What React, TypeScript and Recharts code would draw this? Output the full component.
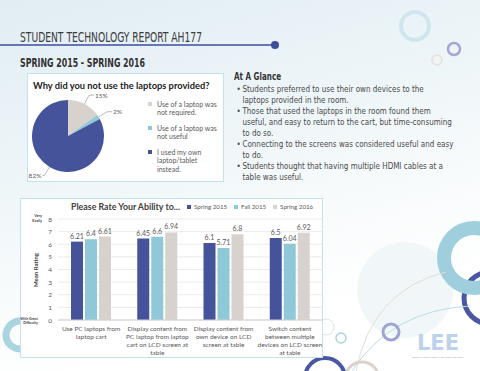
import React from 'react';
import {
  Bar,
  BarChart,
  CartesianGrid,
  Cell,
  LabelList,
  Legend,
  Pie,
  PieChart,
  XAxis,
  YAxis,
} from 'recharts';

// pie: why the laptops were not used
const PIE_NAMES = [
  'Use of a laptop was\nnot required.',
  'Use of a laptop was\nnot useful',
  'I used my own\nlaptop/tablet\ninstead.',
];
const PIE_VALUES = [15, 2, 82];
const PIE_COLORS = ['#d7d2cd', '#8fc8d8', '#45539b'];

// bars: mean rating per task
const CATEGORIES = [
  'Use PC laptops from\nlaptop cart',
  'Display content from\nPC laptop from laptop\ncart on LCD screen at\ntable',
  'Display content from\nown device on LCD\nscreen at table',
  'Switch content\nbetween multiple\ndevices on LCD screen\nat table',
];
const SPRING_2015 = [6.21, 6.45, 6.1, 6.5];
const FALL_2015 = [6.4, 6.6, 5.71, 6.04];
const SPRING_2016 = [6.61, 6.94, 6.8, 6.92];
const SERIES = ['Spring 2015', 'Fall 2015', 'Spring 2016'];
const SERIES_COLORS = ['#45539b', '#8fc8d8', '#d7d2cd'];
const Y_TICKS = [0, 1, 2, 3, 4, 5, 6, 7, 8];

const GLANCE = [
  'Students preferred to use their own devices to the\nlaptops provided in the room.',
  'Those that used the laptops in the room found them\nuseful, and easy to return to the cart, but time-consuming\nto do so.',
  'Connecting to the screens was considered useful and easy\nto do.',
  'Students thought that having multiple HDMI cables at a\ntable was useful.',
];

const pieData = PIE_NAMES.map((name, i) => ({ name, value: PIE_VALUES[i] }));
const barData = CATEGORIES.map((cat, i) => ({
  cat,
  s15: SPRING_2015[i],
  f15: FALL_2015[i],
  s16: SPRING_2016[i],
}));

const RADIAN = Math.PI / 180;
const CHART_FONT = 'Lato, "Open Sans", sans-serif';
const COND_FONT = '"Liberation Sans Narrow", "DejaVu Sans Condensed", sans-serif';

const renderPieLabel = (props: any) => {
  const { cx, cy, midAngle, outerRadius, value } = props;
  const cos = Math.cos(-midAngle * RADIAN);
  const sin = Math.sin(-midAngle * RADIAN);
  const x0 = cx + outerRadius * cos;
  const y0 = cy + outerRadius * sin;
  const x1 = cx + (outerRadius + 10) * cos;
  const y1 = cy + (outerRadius + 10) * sin;
  const right = cos >= 0;
  const x2 = x1 + (right ? 5 : -2);
  return (
    <g>
      <polyline points={`${x0},${y0} ${x1},${y1} ${x2},${y1}`} fill="none" stroke="#8c8c8c" strokeWidth={0.6} />
      <text x={x2 + (right ? 1 : -1)} y={y1} dy={2.5} textAnchor={right ? 'start' : 'end'} fontSize={6.5} fill="#595959" fontFamily={CHART_FONT}>
        {`${value}%`}
      </text>
    </g>
  );
};

const byOrder = (order: string[]) => (a: any, b: any) => order.indexOf(a.value) - order.indexOf(b.value);

const PieLegend = ({ payload }: any) => (
  <div style={{ fontFamily: CHART_FONT, fontSize: 7, color: '#595959', lineHeight: '8.5px' }}>
    {[...(payload || [])].sort(byOrder(PIE_NAMES)).map((p: any) => (
      <div key={p.value} style={{ display: 'flex', alignItems: 'flex-start', marginBottom: 7 }}>
        <span style={{ width: 4, height: 4, background: p.color, marginTop: 2, marginRight: 5, flex: 'none' }} />
        <span style={{ whiteSpace: 'pre' }}>{p.value}</span>
      </div>
    ))}
  </div>
);

const BarLegend = ({ payload }: any) => (
  <div style={{ display: 'flex', gap: 7, fontFamily: CHART_FONT, fontSize: 6.2, color: '#595959', whiteSpace: 'nowrap' }}>
    {[...(payload || [])].sort(byOrder(SERIES)).map((p: any) => (
      <div key={p.value} style={{ display: 'flex', alignItems: 'center' }}>
        <span style={{ width: 4, height: 4, background: p.color, marginRight: 3 }} />
        <span>{p.value}</span>
      </div>
    ))}
  </div>
);

const CategoryTick = ({ x, y, payload }: any) => {
  const lines = String(payload.value).split('\n');
  return (
    <text x={x} y={y} textAnchor="middle" fontSize={6.5} fill="#595959" fontFamily={CHART_FONT}>
      {lines.map((line, i) => (
        <tspan key={i} x={x} dy={i === 0 ? 2.5 : 8}>
          {line}
        </tspan>
      ))}
    </text>
  );
};

const RatingTick = ({ x, y, payload }: any) => (
  <g>
    <text x={x} y={y} dy={2.5} textAnchor="end" fontSize={6.5} fill="#595959" fontFamily={CHART_FONT}>
      {payload.value}
    </text>
    {payload.value === 8 && (
      <text x={x - 10} y={y} textAnchor="end" fontSize={3.8} fontWeight="bold" fill="#404040" fontFamily={CHART_FONT}>
        <tspan x={x - 10} dy={-2}>Very</tspan>
        <tspan x={x - 10} dy={4.5}>Easily</tspan>
      </text>
    )}
    {payload.value === 0 && (
      <text x={x - 14} y={y} textAnchor="end" fontSize={3.6} fontWeight="bold" fill="#404040" fontFamily={CHART_FONT}>
        <tspan x={x - 14} dy={-0.5}>With Great</tspan>
        <tspan x={x - 14} dy={4.5}>Difficulty</tspan>
      </text>
    )}
  </g>
);

const Decorations = () => (
  <svg width={480} height={371} style={{ position: 'absolute', left: 0, top: 0 }}>
    <circle cx={405} cy={290} r={48} fill="#f1f7f9" />
    <circle cx={415} cy={26} r={14} fill="none" stroke="#cfe6ee" strokeWidth={4} />
    <circle cx={454} cy={49} r={6} fill="none" stroke="#a3a8d3" strokeWidth={2.5} />
    <circle cx={437} cy={60} r={5} fill="none" stroke="#e6dfda" strokeWidth={1.5} />
    <circle cx={20} cy={335} r={14} fill="none" stroke="#a9d4e0" strokeWidth={7} />
    <circle cx={490} cy={298} r={26} fill="none" stroke="#4a57a3" strokeWidth={5} />
    <circle cx={474} cy={258} r={30} fill="none" stroke="#9fcfdc" strokeWidth={14} />
    <path d="M 356 371 Q 372 290 446 272" fill="none" stroke="#e3ddd8" strokeWidth={1} />
    <path d="M 352 371 Q 392 310 470 306" fill="none" stroke="#b9dde6" strokeWidth={1} />
    <circle cx={326} cy={327} r={8} fill="none" stroke="#e2e2e2" strokeWidth={1} />
    <circle cx={341} cy={338} r={5} fill="none" stroke="#a9d4e0" strokeWidth={1.5} />
    <circle cx={391} cy={332} r={8} fill="none" stroke="#9ea5d3" strokeWidth={3} />
    <circle cx={362} cy={379} r={17} fill="none" stroke="#d9d2cc" strokeWidth={3} />
    <circle cx={325} cy={378} r={20} fill="none" stroke="#4a57a3" strokeWidth={4} />
    <text x={417} y={350} fontSize={22} fontWeight="bold" fill="#bcd2ec" fontFamily={COND_FONT} textLength={42} lengthAdjust="spacingAndGlyphs">
      LEE
    </text>
    <text x={412} y={357.5} fontSize={2.4} fill="#8a9bb4" fontFamily={CHART_FONT} textLength={52} lengthAdjust="spacingAndGlyphs">
      LEARNING ENVIRONMENT EVALUATION
    </text>
  </svg>
);

const App: React.FC = () => (
  <div
    style={{
      position: 'fixed',
      left: 0,
      top: 0,
      width: 480,
      height: 371,
      overflow: 'hidden',
      background: 'linear-gradient(165deg, #e1edf3 0%, #edf5f8 35%, #f8fbfc 60%, #ffffff 80%)',
      fontFamily: CHART_FONT,
    }}
  >
    <Decorations />

    {/* header */}
    <svg width={480} height={70} style={{ position: 'absolute', left: 0, top: 0 }}>
      <text x={20} y={42} fontSize={14} fill="#3c3c3c" fontFamily={COND_FONT} textLength={182} lengthAdjust="spacingAndGlyphs">
        STUDENT TECHNOLOGY REPORT AH177
      </text>
      <line x1={0} y1={45} x2={275} y2={45} stroke="#3e4d9e" strokeWidth={1.5} />
      <circle cx={275} cy={45} r={4} fill="#3e4d9e" />
      <text x={20} y={66.5} fontSize={12.5} fontWeight="bold" fill="#333" fontFamily={COND_FONT} textLength={125} lengthAdjust="spacingAndGlyphs">
        SPRING 2015 - SPRING 2016
      </text>
    </svg>

    {/* pie panel */}
    <div
      style={{
        position: 'absolute',
        left: 27,
        top: 73,
        width: 197,
        height: 109,
        background: '#fff',
        boxShadow: 'inset 0 0 0 1px #c4e2eb',
      }}
    >
      <div style={{ position: 'absolute', left: 6, top: 6.5, fontSize: 9.3, fontWeight: 700, color: '#222', whiteSpace: 'nowrap' }}>
        Why did you not use the laptops provided?
      </div>
      <PieChart width={197} height={109} margin={{ top: 0, right: 0, bottom: 0, left: 0 }}>
        <Pie
          data={pieData}
          dataKey="value"
          nameKey="name"
          cx={41}
          cy={63}
          outerRadius={36}
          startAngle={90}
          endAngle={-270}
          stroke="none"
          isAnimationActive={false}
          labelLine={false}
          label={renderPieLabel}
        >
          {pieData.map((d, i) => (
            <Cell key={d.name} fill={PIE_COLORS[i]} />
          ))}
        </Pie>
        <Legend
          layout="vertical"
          align="center"
          verticalAlign="middle"
          content={PieLegend}
          wrapperStyle={{ left: 121, top: 26.5, width: 75 }}
        />
      </PieChart>
    </div>

    {/* at a glance */}
    <div style={{ position: 'absolute', left: 234, top: 71, fontFamily: COND_FONT, color: '#4a4a4a', whiteSpace: 'pre' }}>
      <div style={{ fontSize: 10, fontWeight: 700, color: '#333', lineHeight: '12px', transform: 'scaleX(0.8)', transformOrigin: 'left' }}>
        At A Glance
      </div>
      <div style={{ transform: 'scaleX(0.84)', transformOrigin: 'left' }}>
        {GLANCE.map((g) => (
          <div key={g} style={{ display: 'flex', fontSize: 9.5, lineHeight: '11px' }}>
            <span style={{ width: 10, flex: 'none', paddingLeft: 3, boxSizing: 'border-box' }}>•</span>
            <span>{g}</span>
          </div>
        ))}
      </div>
    </div>

    {/* bar panel */}
    <div
      style={{
        position: 'absolute',
        left: 20,
        top: 198,
        width: 303,
        height: 160,
        background: '#fff',
        boxShadow: 'inset 0 0 0 1px #c4e2eb',
      }}
    >
      <div style={{ position: 'absolute', left: 51, top: 3, fontSize: 8.8, fontWeight: 700, color: '#404040', whiteSpace: 'nowrap' }}>
        Please Rate Your Ability to...
      </div>
      <div
        style={{
          position: 'absolute',
          left: 15,
          top: 72,
          fontSize: 6,
          fontWeight: 700,
          color: '#404040',
          transform: 'translate(-50%, -50%) rotate(-90deg)',
          whiteSpace: 'nowrap',
        }}
      >
        Mean Rating
      </div>
      <BarChart width={303} height={160} data={barData} margin={{ top: 21, right: 0, bottom: 0, left: 0 }} barSize={12} barGap={2}>
        <CartesianGrid vertical={false} stroke="#e3e3e3" strokeWidth={0.7} />
        <XAxis dataKey="cat" height={38} tick={CategoryTick} tickLine={false} axisLine={{ stroke: '#d0d0d0' }} interval={0} />
        <YAxis width={38} domain={[0, 8]} ticks={Y_TICKS} interval={0} tick={RatingTick} tickLine={false} axisLine={false} tickMargin={0} />
        <Legend layout="horizontal" align="center" verticalAlign="middle" content={BarLegend} wrapperStyle={{ left: 167, top: 5, width: 140 }} />
        {(['s15', 'f15', 's16'] as const).map((key, i) => (
          <Bar key={key} dataKey={key} name={SERIES[i]} fill={SERIES_COLORS[i]} isAnimationActive={false}>
            <LabelList dataKey={key} position="top" offset={3} fontSize={7} fill="#595959" fontFamily={CHART_FONT} />
          </Bar>
        ))}
      </BarChart>
    </div>
  </div>
);

export default App;
